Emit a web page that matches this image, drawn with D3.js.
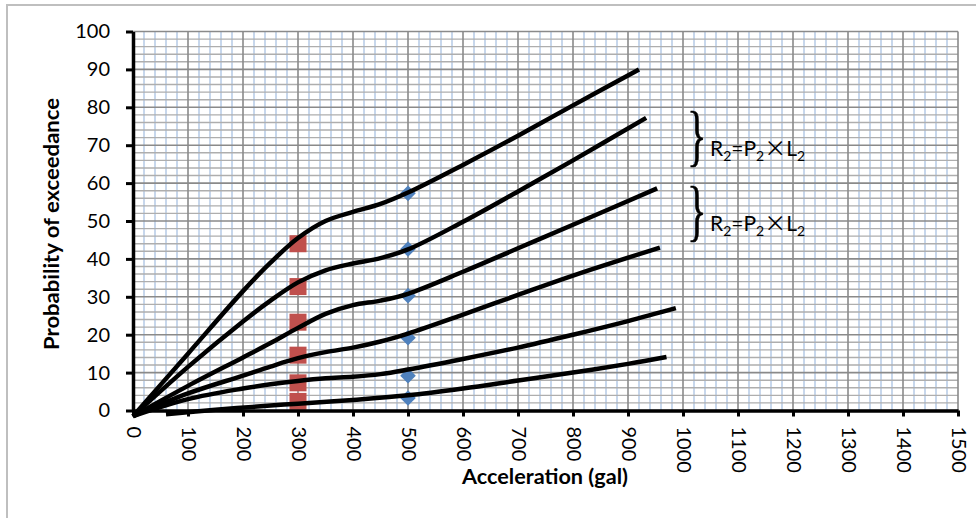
<!DOCTYPE html>
<html><head><meta charset="utf-8">
<script src="https://cdn.jsdelivr.net/npm/d3@7"></script>
<style>body{margin:0;background:#fff;} svg{display:block;}</style>
</head><body><svg id="c" width="976" height="518"></svg>
<script>
// ---- data ----
const xTickValues = [0,100,200,300,400,500,600,700,800,900,1000,1100,1200,1300,1400,1500];
const yTickValues = [0,10,20,30,40,50,60,70,80,90,100];
const xTitle = "Acceleration (gal)";
const yTitle = "Probability of exceedance";

const curve1 = [[0,-1.5],[100,15],[200,31.5],[250,39],[300,45.5],[350,50],[400,52.4],[450,54.5],[500,57.5],[600,64.8],[700,72.5],[800,80.5],[920,90]];
const curve2 = [[0,-1.5],[100,11.5],[200,23.5],[250,29],[300,33.8],[350,37],[400,38.8],[450,40.2],[500,42.5],[600,49.8],[700,57.8],[800,66],[933,77.2]];
const curve3 = [[0,-1.5],[100,6.5],[200,14],[250,17.8],[300,21.8],[350,25.5],[400,27.8],[450,29],[500,30.8],[600,36.6],[700,42.8],[800,49],[953,58.6]];
const curve4 = [[0,-1.5],[100,4.5],[200,9.2],[250,11.6],[300,13.8],[350,15.4],[400,16.6],[450,18.2],[500,20.3],[600,25.3],[700,30.5],[800,35.6],[958,43]];
const curve5 = [[0,-1.5],[100,3],[200,5.8],[250,6.9],[300,7.8],[350,8.5],[400,8.9],[450,9.6],[500,10.8],[600,13.6],[700,16.6],[800,20],[900,23.6],[987,27]];
const curve6 = [[60,-1],[150,0.2],[250,1.3],[300,1.8],[400,2.8],[500,4],[600,5.8],[700,7.9],[800,10],[900,12.3],[970,14.1]];
const curves = [curve1, curve2, curve3, curve4, curve5, curve6];

const squareX = 300;
const squareValues = [44, 32.7, 23.3, 14.6, 7.3, 2.4];
const diamondX = 500;
const diamondValues = [57.3, 42.6, 30.3, 19.2, 9.2, 3.3];

const braceLabels = [{x: 1000, y: 71.1}, {x: 1000, y: 51.3}];

// ---- drawing ----
const svg = d3.select('#c');
const x = d3.scaleLinear().domain([0,1500]).range([133,958]);
const y = d3.scaleLinear().domain([0,100]).range([410.5,31.5]);

svg.append('rect').attr('width',976).attr('height',518).attr('fill','#fff');
svg.append('rect').attr('x',7).attr('y',5).attr('width',1100).attr('height',700)
  .attr('fill','none').attr('stroke','#bfbfbf').attr('stroke-width',2);

const grid = svg.append('g');
grid.selectAll('.vmin').data(x.ticks(75).filter(v => v % 100 !== 0)).join('line')
  .attr('x1', d => x(d)).attr('x2', d => x(d)).attr('y1', y(100)).attr('y2', y(0))
  .attr('stroke', '#b9cde8').attr('stroke-width', 1.6);
grid.selectAll('.hmin').data(y.ticks(50).filter(v => v % 10 !== 0)).join('line')
  .attr('x1', x(0)).attr('x2', x(1500)).attr('y1', d => y(d)).attr('y2', d => y(d))
  .attr('stroke', '#aeaeae').attr('stroke-width', 1.4);
grid.selectAll('.vmaj').data(xTickValues).join('line')
  .attr('x1', d => x(d)).attr('x2', d => x(d)).attr('y1', y(100)).attr('y2', y(0))
  .attr('stroke', '#8a8a8a').attr('stroke-width', 1.6);
grid.selectAll('.hmaj').data(yTickValues).join('line')
  .attr('x1', x(0)).attr('x2', x(1500)).attr('y1', d => y(d)).attr('y2', d => y(d))
  .attr('stroke', '#8a8a8a').attr('stroke-width', 1.6);

// markers
const sq = 17;
svg.append('g').selectAll('rect').data(squareValues).join('rect')
  .attr('x', x(squareX) - sq/2).attr('y', d => y(d) - sq/2)
  .attr('width', sq).attr('height', sq).attr('fill', '#c0504d');
const dm = 7.8;
svg.append('g').selectAll('path').data(diamondValues).join('path')
  .attr('d', d => `M${x(diamondX)},${y(d)-dm}L${x(diamondX)+dm},${y(d)}L${x(diamondX)},${y(d)+dm}L${x(diamondX)-dm},${y(d)}Z`)
  .attr('fill', '#4f81bd');

// curves
const line = d3.line().x(d => x(d[0])).y(d => y(d[1])).curve(d3.curveCatmullRom.alpha(0.5));
svg.append('g').selectAll('path').data(curves).join('path')
  .attr('d', line).attr('fill','none').attr('stroke','#000').attr('stroke-width',4.5)
  .attr('stroke-linecap','butt').attr('stroke-linejoin','round');

// axes
const font = 'Lato, "Open Sans", sans-serif';
const yAxis = svg.append('g').attr('transform', `translate(${x(0)},0)`)
  .call(d3.axisLeft(y).tickValues(yTickValues).tickSize(7).tickPadding(16).tickSizeOuter(0));
yAxis.select('.domain').attr('stroke','#000').attr('stroke-width',3.5);
yAxis.selectAll('.tick line').attr('stroke','#000').attr('stroke-width',3);
yAxis.selectAll('.tick text').attr('font-family', font).attr('font-size', 20).attr('fill','#000');

const xAxis = svg.append('g').attr('transform', `translate(0,${y(0)})`)
  .call(d3.axisBottom(x).tickValues(xTickValues).tickFormat(d3.format('d')).tickSize(6).tickSizeOuter(0));
xAxis.select('.domain').attr('stroke','#000').attr('stroke-width',3.5);
xAxis.selectAll('.tick line').attr('stroke','#000').attr('stroke-width',3);
xAxis.selectAll('.tick text').attr('font-family', font).attr('font-size', 20).attr('fill','#000')
  .attr('transform','rotate(90)').attr('text-anchor','start')
  .attr('x', 16).attr('y', 0).attr('dy','0.35em');

// titles
svg.append('text').attr('transform','translate(52,224) rotate(-90)')
  .attr('text-anchor','middle').attr('dy','0.35em')
  .attr('font-family', font).attr('font-weight','bold').attr('font-size',20)
  .attr('textLength',252).attr('lengthAdjust','spacingAndGlyphs')
  .text(yTitle);
svg.append('text').attr('x',545).attr('y',484).attr('text-anchor','middle')
  .attr('font-family', font).attr('font-weight','bold').attr('font-size',20)
  .attr('textLength',166).attr('lengthAdjust','spacingAndGlyphs')
  .text(xTitle);

// brace annotations
const ann = svg.append('g');
braceLabels.forEach(b => {
  const by = y(b.y);
  ann.append('text').attr('transform', `translate(687,${by + 17}) scale(0.6,1)`)
    .attr('font-family','"Liberation Serif", serif').attr('font-size',68)
    .attr('stroke','#000').attr('stroke-width',0.6).text('}');
  const t = ann.append('text').attr('x',710).attr('y',by + 15)
    .attr('font-family', font).attr('font-size',21).attr('fill','#000');
  t.append('tspan').text('R');
  t.append('tspan').attr('font-size',14).attr('dy',5).text('2');
  t.append('tspan').attr('dy',-5).text('=P');
  t.append('tspan').attr('font-size',14).attr('dy',5).text('2');
  t.append('tspan').attr('dy',-5).attr('font-family','"Noto Sans CJK JP", sans-serif').attr('font-size',22).text('×');
  t.append('tspan').text('L');
  t.append('tspan').attr('font-size',14).attr('dy',5).text('2');
});
</script></body></html>
